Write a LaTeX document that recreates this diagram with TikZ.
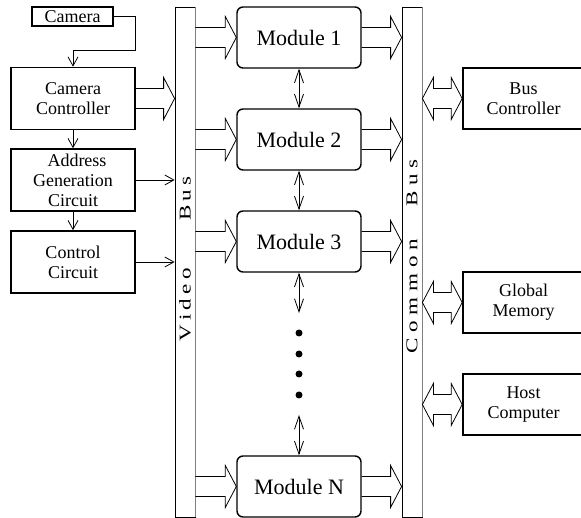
\documentclass[tikz,border=0pt]{standalone}
\usepackage{fontspec}
\setmainfont{Liberation Serif}
\usetikzlibrary{arrows.meta,calc}
\newcommand\spl{\hspace{3pt}}
\newcommand\spc{\hspace{4pt}}
\newcommand\blockR[3]{%
  \draw[blk] let \p1=(#1), \p2=(#2), \p3=(#3) in
  (\x1,\y3+10pt) -- (\x2-11pt,\y3+10pt) -- (\x2-11pt,\y3+21pt) -- (\x2,\y3)
  -- (\x2-11pt,\y3-21pt) -- (\x2-11pt,\y3-10pt) -- (\x1,\y3-10pt);}
\newcommand\blockLR[3]{%
  \draw[blk] let \p1=(#1), \p2=(#2), \p3=(#3) in
  (\x1+11pt,\y3+10pt) -- (\x2-11pt,\y3+10pt) -- (\x2-11pt,\y3+21pt) -- (\x2,\y3)
  -- (\x2-11pt,\y3-21pt) -- (\x2-11pt,\y3-10pt) -- (\x1+11pt,\y3-10pt)
  -- (\x1+11pt,\y3-21pt) -- (\x1,\y3) -- (\x1+11pt,\y3+21pt) -- cycle;}
\begin{document}
\begin{tikzpicture}[x=1pt,y=-1pt,
  box/.style={draw,line width=1.6pt,inner sep=0pt,align=center,font=\fontsize{18}{20}\selectfont},
  mod/.style={draw,line width=1.4pt,rounded corners=6pt,minimum width=124pt,minimum height=61pt,inner sep=0pt,font=\fontsize{22}{26}\selectfont},
  bus/.style={draw,line width=0.8pt,minimum width=20pt,minimum height=510pt,inner sep=0pt},
  bustext/.style={rotate=90,inner sep=0pt,font=\fontsize{16.5}{18}\selectfont},
  sarrow/.style={line width=0.8pt,-{Straight Barb[length=9pt,width=10pt]}},
  darrow/.style={line width=0.8pt,{Straight Barb[length=13pt,width=9pt]}-{Straight Barb[length=13pt,width=9pt]}},
  blk/.style={line width=0.8pt},
  dot/.style={circle,fill,inner sep=0pt,minimum size=7pt}]
\useasboundingbox (0,0) rectangle (581,518);
\clip (0,0) rectangle (581,518);
% left column
\node[box,minimum width=81pt,minimum height=19pt] (cam) at (72.5,16.5) {Camera};
\node[box,minimum width=124pt,minimum height=62pt] (cc) at (73,98.5) {Camera\\Controller};
\node[box,minimum width=124pt,minimum height=62pt] (agc) at (73,180) {\hspace{8pt}Address\\Generation\\Circuit};
\node[box,minimum width=124pt,minimum height=62pt] (ctl) at (73,262) {Control\\Circuit};
% buses
\node[bus] (vbus) at (185,262) {};
\node[bus] (cbus) at (412,262) {};
\draw[gray,line width=1.2pt] (vbus.north east) -- (vbus.south east);
\draw[gray,line width=1.2pt] (cbus.north east) -- (cbus.south east);
\node[bustext] (vtext) at (185,259) {\scalebox{1.4}[1]{V\spl i\spl d\spl e\spl o\hspace{34pt}B\spl u\spl s}};
\node[bustext] (ctext) at (412,256.5) {\scalebox{1.4}[1]{C\spc o\spc m\spc m\spc o\spc n\hspace{23pt}B\spc u\spc s}};
% modules
\node[mod] (m1) at (299,37.5) {Module 1};
\node[mod] (m2) at (299,139.5) {Module 2};
\node[mod] (m3) at (299,241.5) {Module 3};
\node[mod] (mN) at (299,486.5) {Module N};
% right boxes
\node[box,minimum width=121pt,minimum height=61pt] (bc) at (523.5,98.5) {Bus\\Controller};
\node[box,minimum width=121pt,minimum height=61pt] (gm) at (523.5,302.5) {Global\\Memory};
\node[box,minimum width=121pt,minimum height=61pt] (hc) at (523.5,404.5) {Host\\Computer};
% dots
\node[dot] (d1) at (299,333) {};
\node[dot] (d2) at (299,354) {};
\node[dot] (d3) at (299,374) {};
\node[dot] (d4) at (299,395) {};
\coordinate (dt) at (299,313);
\coordinate (db) at (299,415);
% left connectors
\draw[sarrow] (cam.east) -- (cam.east -| cc.east) -- ++(0,33.5) -| (cc.north);
\draw[sarrow] (cc.south) -- (agc.north);
\draw[sarrow] (agc.south) -- (ctl.north);
\draw[sarrow] (agc.east) -- (agc.east -| vbus.west);
\draw[sarrow] (ctl.east) -- (ctl.east -| vbus.west);
\blockR{cc.east}{vbus.west}{cc}
% video bus to modules
\blockR{vbus.east}{m1.west}{m1}
\blockR{vbus.east}{m2.west}{m2}
\blockR{vbus.east}{m3.west}{m3}
\blockR{vbus.east}{mN.west}{mN}
% modules to common bus
\blockR{m1.east}{cbus.west}{m1}
\blockR{m2.east}{cbus.west}{m2}
\blockR{m3.east}{cbus.west}{m3}
\blockR{mN.east}{cbus.west}{mN}
% module chain
\draw[darrow] (m1.south) -- (m2.north);
\draw[darrow] (m2.south) -- (m3.north);
\draw[darrow] (m3.south) -- (dt);
\draw[darrow] (db) -- (mN.north);
% common bus to right boxes
\blockLR{cbus.east}{bc.west}{bc}
\blockLR{cbus.east}{gm.west}{gm}
\blockLR{cbus.east}{hc.west}{hc}
\end{tikzpicture}
\end{document}
